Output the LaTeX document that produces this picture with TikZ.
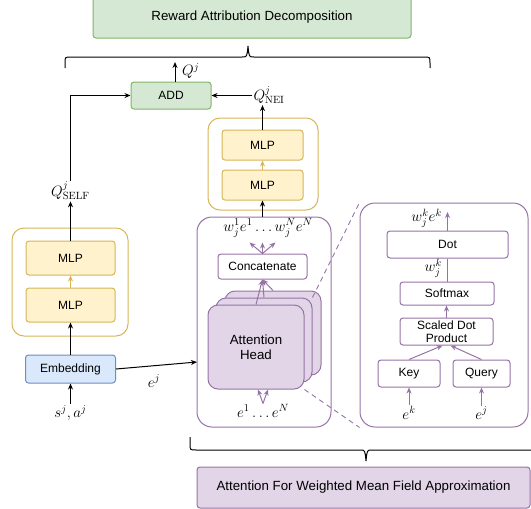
\RequirePackage{fix-cm}
\documentclass[tikz,border=0pt]{standalone}
\usepackage{fontspec}
\newfontfamily\boxfont{Liberation Sans}
\usetikzlibrary{arrows.meta,calc}
\definecolor{grnfill}{HTML}{D5E8D4}
\definecolor{grnline}{HTML}{82B366}
\definecolor{ylwfill}{HTML}{FFF2CC}
\definecolor{ylwline}{HTML}{D6B656}
\definecolor{bluefill}{HTML}{DAE8FC}
\definecolor{blueline}{HTML}{6C8EBF}
\definecolor{purfill}{HTML}{E1D5E7}
\definecolor{purline}{HTML}{9673A6}

\begin{document}
\begin{tikzpicture}[x=1pt, y=-1pt,
    block/.style={rounded corners=3pt, line width=1pt, inner sep=0pt, align=center, font=\boxfont\fontsize{12}{13}\selectfont}, % plain box
    bigblock/.style={block, font=\boxfont\fontsize{13.3}{15}\selectfont},
    greenblock/.style={block, draw=grnline, fill=grnfill},
    mlp/.style={block, draw=ylwline, fill=ylwfill, minimum width=89pt, minimum height=34pt},
    purblock/.style={block, draw=purline, fill=white},
    head/.style={bigblock, draw=purline, fill=purfill, minimum width=96pt, minimum height=84pt, rounded corners=10pt},
    frame/.style={draw, rounded corners=12pt, line width=1pt},
    lbl/.style={font=\fontsize{15}{17}\selectfont, inner sep=1pt},
    arr/.style={-{Stealth[length=6pt,width=5pt]}, line width=1pt},
    parr/.style={arr, color=purline},
    zoomline/.style={dashed, dash pattern=on 5pt off 4pt, color=purline, line width=0.9pt}
  ]
  \useasboundingbox (0,0) rectangle (531,509);

  % Top of the network
  \node [greenblock, bigblock, draw=grnline, minimum width=318pt, minimum height=42pt] (reward) at (252,17) {Reward Attribution Decomposition};
  \node [greenblock, minimum width=80pt, minimum height=27pt] (add) at (171,95.5) {ADD};
  \node [lbl, anchor=west] (qj) at (181,71) {$Q^j$};
  \node [lbl] (qnei) at (269,95) {$Q^j_{\mathrm{NEI}}$};
  \node [lbl] (qself) at (70.5,191) {$Q^j_{\mathrm{SELF}}$};

  % Self branch
  \node [frame, draw=ylwline, minimum width=116pt, minimum height=108pt] (selfmlps) at (70,282) {};
  \node [mlp] (mlpA) at (70.5,258) {MLP};
  \node [mlp] (mlpB) at (70.5,305) {MLP};
  \node [block, draw=blueline, fill=bluefill, minimum width=90pt, minimum height=28pt] (embed) at (70.5,369) {Embedding};
  \node [lbl] (sa) at (70.5,413) {$s^j, a^j$};
  \node [lbl] (ej) at (154,381) {$e^j$};

  % Neighbour branch
  \node [frame, draw=ylwline, minimum width=110pt, minimum height=92pt] (neimlps) at (263,164) {};
  \node [mlp, minimum width=81pt, minimum height=30pt] (mlpC) at (262.5,185) {MLP};
  \node [mlp, minimum width=81pt, minimum height=30pt] (mlpD) at (262.5,145) {MLP};

  % Attention block
  \node [frame, draw=purline, rounded corners=15pt, minimum width=134pt, minimum height=210pt] (attn) at (264,322) {};
  \node [lbl] (wsum) at (268,228) {$w_j^1e^1\ldots w_j^Ne^N$};
  \node [purblock, minimum width=89pt, minimum height=25pt] (concat) at (262.5,266.5) {Concatenate};
  \node [head] (headC) at (273,333) {};
  \node [head] (headB) at (264,340) {};
  \node [head] (headA) at (256,347) {Attention\\Head};
  \node [lbl] (elist) at (263,411) {$e^1\ldots e^N$};

  % Zoomed attention head
  \node [frame, draw=purline, rounded corners=15pt, minimum width=168pt, minimum height=224pt] (detail) at (444,315) {};
  \node [purblock, minimum width=121pt, minimum height=27pt] (dot) at (447.5,244.5) {Dot};
  \node [purblock, minimum width=94pt, minimum height=23pt] (softmax) at (447,293.5) {Softmax};
  \node [purblock, minimum width=93pt, minimum height=27pt] (scaled) at (446.5,331.5) {Scaled Dot\\Product};
  \node [purblock, minimum width=62pt, minimum height=27pt] (key) at (409,373.5) {Key};
  \node [purblock, minimum width=57pt, minimum height=27pt] (query) at (481.5,373.5) {Query};
  \node [lbl] (ek) at (409,413) {$e^k$};
  \node [lbl] (ejq) at (481.5,413) {$e^j$};
  \node [lbl, anchor=east] (wke) at (443,218) {$w_j^ke^k$};
  \node [lbl, anchor=east] (wk) at (443,268) {$w_j^k$};

  % Bottom caption
  \node [bigblock, draw=purline, fill=purfill, minimum width=333pt, minimum height=41pt] (mfa) at (363.5,487.5) {Attention For Weighted Mean Field Approximation};

  % Connectors
  \coordinate (qout) at (175,62);
  \coordinate (ein) at (197,362);
  \coordinate (dotout) at (447.5,212);
  \draw [arr] (add.north -| qout) -- (qout);
  \draw [arr] (qnei.west |- add.east) -- (add.east);
  \draw [arr] (mlpD.north) -- (mlpD.north |- qnei.south);
  \draw [arr] (qself.north) |- (add.west);
  \draw [arr] (mlpA.north) -- (qself.south);
  \draw [arr, color=ylwline] (mlpB.north) -- (mlpA.south);
  \draw [arr, color=ylwline] (mlpC.north) -- (mlpD.south);
  \draw [arr] (embed.north) -- (mlpB.south);
  \draw [arr] (sa.north) -- (embed.south);
  \draw [arr] (embed.east) -- (ein);
  \draw [arr] (mlpC.south |- attn.north) -- (mlpC.south);
  \foreach \dx in {-13,0,13}
    \draw [parr] (concat.north) -- ++(\dx,-11);
  \draw [parr] (headA.north) -- (concat.south);
  \draw [parr] (headB.north) -- (concat.south);
  \draw [parr] (headC.north) -- (concat.south);
  \foreach \dx in {-5,5}
    \draw [parr] (elist.north) -- ([xshift=\dx pt]elist.north |- headA.south);
  \draw [zoomline] (headB.north east) -- (detail.north west);
  \draw [zoomline] (headA.south east) -- (detail.south west);

  \draw [parr] (dot.north) -- (dotout);
  \draw [line width=1pt, color=purline] (softmax.north) -- (softmax.north |- dot.south);
  \draw [parr] (scaled.north) -- (scaled.north |- softmax.south);
  \draw [parr] (key.north) -- ([xshift=-4pt]scaled.south);
  \draw [parr] (query.north) -- ([xshift=4pt]scaled.south);
  \draw [parr] (ek.north) -- (ek.north |- key.south);
  \draw [parr] (ejq.north) -- (ejq.north |- query.south);

  % Braces
  \draw [line width=1pt] (65,68) -- (65,63) .. controls (65,57) .. (71,57) -- (242,57)
    .. controls (247,57) .. (248,46) .. controls (249,57) .. (254,57) -- (424,57)
    .. controls (430,57) .. (430,63) -- (430,68);
  \draw [line width=1pt] (190,437) -- (190,444) .. controls (190,450) .. (196,450) -- (360,450)
    .. controls (365,450) .. (366,461) .. controls (367,450) .. (372,450) -- (536,450)
    .. controls (542,450) .. (542,444) -- (542,437);
\end{tikzpicture}
\end{document}
